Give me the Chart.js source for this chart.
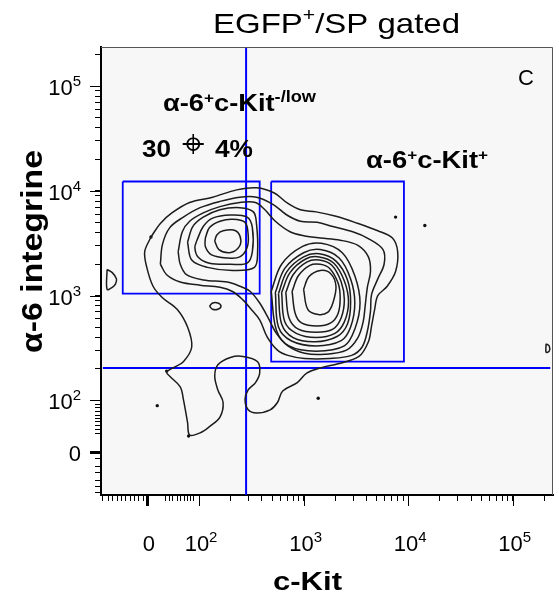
<!DOCTYPE html>
<html>
<head>
<meta charset="utf-8">
<title>EGFP+/SP gated</title>
<script src="https://cdn.jsdelivr.net/npm/chart.js@4.4.0/dist/chart.umd.min.js"></script>
<style>
  html, body { margin: 0; padding: 0; background: #fff; }
  #wrap { width: 559px; height: 595px; }
</style>
</head>
<body>
<div id="wrap"><canvas id="facs" width="559" height="595"></canvas></div>
<script>
// all values are log10 decades on a biexponential display (0 sits near 1.5)
const xRange = [1.062, 5.386];
const yRange = [1.097, 5.374];

// major ticks + labels
const xMajor = [1.50, 2, 3, 4, 5];
const yMajor = [1.51, 2, 3, 4, 5];
const tickBase = ['0', '10', '10', '10', '10'];
const tickExp = ['', '2', '3', '4', '5'];

// minor ticks in the linear part of the scale
const xLowTicks = [1.68, 1.72, 1.75, 1.79, 1.82, 1.86, 1.89, 1.92, 1.95];
const xNegTicks = [1.08, 1.13, 1.17, 1.22, 1.26, 1.30, 1.34, 1.38, 1.42, 1.47];
const yLowTicks = [1.96, 1.93, 1.89, 1.86, 1.83, 1.80, 1.76, 1.72, 1.68];
const yNegTicks = [1.45, 1.37, 1.31, 1.24, 1.18, 1.12];

// gates
const gateLow = [[1.27, 4.09], [2.58, 4.09], [2.58, 3.02], [1.27, 3.02], [1.27, 4.09]];
const gateHigh = [[2.69, 4.09], [3.96, 4.09], [3.96, 2.37], [2.69, 2.37], [2.69, 4.09]];
const quadX = 2.45;
const quadY = 2.31;

// contour lines (outer merged ones first)
const m1 = [[1.54,3.56],[1.63,3.69],[1.74,3.79],[1.91,3.89],[2.13,3.94],[2.36,4.01],[2.55,4.03],[2.72,3.98],[2.85,3.88],[2.97,3.82],[3.12,3.80],[3.30,3.76],[3.49,3.70],[3.71,3.62],[3.85,3.55],[3.90,3.42],[3.88,3.23],[3.80,3.09],[3.71,3.00],[3.68,2.87],[3.65,2.71],[3.62,2.56],[3.53,2.42],[3.33,2.35],[3.16,2.31],[3.03,2.26],[2.94,2.17],[2.80,2.09],[2.75,1.98],[2.68,1.91],[2.55,1.88],[2.47,1.91],[2.44,2.01],[2.47,2.10],[2.54,2.17],[2.58,2.26],[2.56,2.37],[2.42,2.42],[2.30,2.41],[2.18,2.34],[2.15,2.23],[2.18,2.10],[2.23,1.98],[2.20,1.84],[2.10,1.75],[2.01,1.69],[1.91,1.67],[1.89,1.79],[1.85,2.01],[1.82,2.13],[1.72,2.23],[1.69,2.27],[1.75,2.31],[1.85,2.37],[1.93,2.51],[1.89,2.70],[1.79,2.87],[1.65,2.98],[1.56,3.09],[1.50,3.27],[1.48,3.42],[1.54,3.56]];
const m2 = [[1.63,3.30],[1.65,3.49],[1.72,3.65],[1.85,3.75],[2.01,3.84],[2.20,3.90],[2.39,3.94],[2.55,3.94],[2.71,3.87],[2.84,3.77],[2.97,3.71],[3.13,3.70],[3.28,3.66],[3.47,3.61],[3.61,3.55],[3.76,3.44],[3.77,3.30],[3.71,3.16],[3.65,3.01],[3.64,2.85],[3.61,2.66],[3.56,2.51],[3.46,2.43],[3.25,2.40],[3.01,2.40],[2.85,2.43],[2.75,2.48],[2.65,2.61],[2.58,2.77],[2.49,2.88],[2.42,2.96],[2.32,3.04],[2.20,3.08],[2.01,3.10],[1.82,3.13],[1.69,3.20],[1.63,3.30]];
const m3 = [[1.80,3.42],[1.84,3.61],[1.91,3.71],[2.04,3.79],[2.20,3.85],[2.39,3.89],[2.54,3.89],[2.63,3.82],[2.73,3.71],[2.87,3.61],[3.01,3.57],[3.16,3.55],[3.35,3.53],[3.52,3.48],[3.62,3.37],[3.64,3.23],[3.61,3.08],[3.59,2.91],[3.57,2.75],[3.52,2.60],[3.41,2.48],[3.20,2.44],[3.01,2.45],[2.85,2.52],[2.74,2.64],[2.66,2.79],[2.58,2.93],[2.49,3.04],[2.39,3.09],[2.27,3.13],[2.04,3.15],[1.88,3.20],[1.82,3.30],[1.80,3.42]];

// left population (alpha-6+ c-Kit -/low)
const l1 = [[1.89,3.51],[1.94,3.66],[2.04,3.75],[2.20,3.82],[2.39,3.84],[2.52,3.80],[2.55,3.68],[2.56,3.42],[2.53,3.27],[2.32,3.24],[2.08,3.27],[1.93,3.34],[1.89,3.51]];
const l2 = [[1.98,3.53],[2.04,3.66],[2.13,3.74],[2.30,3.77],[2.46,3.75],[2.51,3.65],[2.51,3.42],[2.46,3.31],[2.30,3.30],[2.10,3.31],[1.99,3.37],[1.96,3.46],[1.98,3.53]];
const l3 = [[2.06,3.55],[2.10,3.65],[2.20,3.71],[2.32,3.73],[2.44,3.70],[2.47,3.58],[2.46,3.46],[2.39,3.37],[2.27,3.36],[2.12,3.39],[2.06,3.47],[2.06,3.55]];
const l4 = [[2.15,3.52],[2.17,3.58],[2.23,3.62],[2.35,3.62],[2.40,3.53],[2.37,3.45],[2.29,3.41],[2.19,3.44],[2.15,3.52]];

// right population (alpha-6+ c-Kit+)
const r1 = [[2.69,3.04],[2.79,3.30],[2.99,3.47],[3.17,3.50],[3.37,3.41],[3.49,3.19],[3.54,2.93],[3.49,2.68],[3.39,2.52],[3.12,2.47],[2.86,2.52],[2.74,2.67],[2.69,3.04]];
const r2 = [[2.73,3.03],[2.82,3.26],[3.00,3.41],[3.16,3.44],[3.34,3.36],[3.45,3.16],[3.49,2.93],[3.45,2.70],[3.36,2.57],[3.12,2.52],[2.88,2.57],[2.76,2.70],[2.73,3.03]];
const r3 = [[2.76,3.02],[2.84,3.23],[3.00,3.37],[3.15,3.40],[3.31,3.33],[3.42,3.15],[3.45,2.94],[3.42,2.73],[3.32,2.61],[3.11,2.56],[2.90,2.60],[2.79,2.73],[2.76,3.02]];
const r4 = [[2.79,3.03],[2.87,3.22],[3.02,3.35],[3.15,3.37],[3.29,3.31],[3.39,3.14],[3.43,2.94],[3.39,2.75],[3.30,2.64],[3.12,2.60],[2.93,2.64],[2.82,2.75],[2.79,3.03]];
const r5 = [[2.83,3.03],[2.90,3.20],[3.03,3.32],[3.15,3.34],[3.27,3.29],[3.36,3.13],[3.39,2.96],[3.36,2.79],[3.28,2.68],[3.12,2.65],[2.95,2.68],[2.86,2.79],[2.83,3.03]];
const r6 = [[2.89,3.04],[2.95,3.19],[3.06,3.29],[3.16,3.30],[3.25,3.26],[3.33,3.12],[3.35,2.98],[3.33,2.83],[3.26,2.74],[3.13,2.71],[2.98,2.74],[2.92,2.83],[2.89,3.04]];
const r7 = [[3.00,3.06],[3.05,3.18],[3.16,3.24],[3.26,3.21],[3.31,3.09],[3.28,2.93],[3.23,2.84],[3.14,2.82],[3.04,2.87],[3.00,3.06]];

// small islands and single events
const islandMid = [[2.10,2.90],[2.13,2.93],[2.18,2.93],[2.21,2.90],[2.18,2.87],[2.13,2.87],[2.10,2.90]];
const islandLeft = [[1.12,3.25],[1.17,3.22],[1.21,3.16],[1.20,3.11],[1.17,3.08],[1.12,3.06],[1.12,3.25]];
const islandRight = [[5.32,2.54],[5.35,2.52],[5.35,2.47],[5.32,2.46],[5.32,2.54]];
const events = [[1.54,3.56],[1.69,2.28],[1.90,1.66],[3.88,3.75],[4.16,3.67],[1.60,1.95],[3.14,2.02]];

const SANS = '"Liberation Sans", Arial, Helvetica, sans-serif';

function pts(arr) {
    return arr.map(p => ({ x: p[0], y: p[1] }));
}

function logMinors(range) {
    const out = [];
    for (let n = 2; n <= 5; n++) {
        for (let k = 2; k <= 9; k++) {
            const v = Math.log10(k * Math.pow(10, n));
            if (v < range[1]) out.push(v);
        }
    }
    return out;
}

const xTickValues = [...xNegTicks, ...xLowTicks, ...xMajor, ...logMinors(xRange)];
const yTickValues = [...yNegTicks, ...yLowTicks, ...yMajor, ...logMinors(yRange)];

function contour(arr) {
    return {
        data: pts(arr),
        showLine: true,
        borderColor: '#1c1c1c',
        borderWidth: 1.5,
        pointRadius: 0,
        tension: 0.35,
        fill: false
    };
}

function gate(arr, width) {
    return {
        data: pts(arr),
        showLine: true,
        borderColor: '#0000ff',
        borderWidth: width,
        pointRadius: 0,
        tension: 0,
        fill: false
    };
}

// rich text: parts drawn one after another, optionally stretched to a width
function drawRich(ctx, parts, x, y, width) {
    let natural = 0;
    parts.forEach(p => {
        ctx.font = (p.bold ? 'bold ' : '') + p.size + 'px ' + SANS;
        p.w = ctx.measureText(p.t).width;
        natural += p.w;
    });
    const sx = width ? width / natural : 1;
    ctx.save();
    ctx.translate(x, y);
    ctx.scale(sx, 1);
    let cx = 0;
    parts.forEach(p => {
        ctx.font = (p.bold ? 'bold ' : '') + p.size + 'px ' + SANS;
        ctx.fillText(p.t, cx, p.dy || 0);
        cx += p.w;
    });
    ctx.restore();
}

function drawTickLabel(ctx, base, exp, x, y, align) {
    ctx.font = '22px ' + SANS;
    const wb = ctx.measureText(base).width;
    ctx.font = '15px ' + SANS;
    const we = exp ? ctx.measureText(exp).width : 0;
    const w = wb + we;
    const x0 = align === 'right' ? x - w : x - w / 2;
    ctx.font = '22px ' + SANS;
    ctx.fillText(base, x0, y);
    if (exp) {
        ctx.font = '15px ' + SANS;
        ctx.fillText(exp, x0 + wb, y - 9);
    }
}

const facsDecor = {
    id: 'facsDecor',
    beforeDraw(chart) {
        const { ctx, chartArea: a } = chart;
        ctx.save();
        ctx.fillStyle = '#f7f7f7';
        ctx.fillRect(a.left, a.top, a.right - a.left, a.bottom - a.top);
        ctx.restore();
    },
    afterDraw(chart) {
        const { ctx, chartArea: a, scales } = chart;
        ctx.save();
        // thin frame on top and right
        ctx.strokeStyle = '#555';
        ctx.lineWidth = 1;
        ctx.beginPath();
        ctx.moveTo(a.left, a.top + 0.5);
        ctx.lineTo(a.right - 0.5, a.top + 0.5);
        ctx.lineTo(a.right - 0.5, a.bottom);
        ctx.stroke();

        // longer major ticks
        ctx.strokeStyle = '#000';
        xMajor.forEach((v, i) => {
            const px = Math.round(scales.x.getPixelForValue(v)) + 0.5;
            ctx.lineWidth = i === 0 ? 3 : 1;
            ctx.beginPath();
            ctx.moveTo(px, a.bottom);
            ctx.lineTo(px, a.bottom + 11);
            ctx.stroke();
        });
        yMajor.forEach((v, i) => {
            const py = Math.round(scales.y.getPixelForValue(v)) + 0.5;
            ctx.lineWidth = i === 0 ? 3 : 1;
            ctx.beginPath();
            ctx.moveTo(a.left, py);
            ctx.lineTo(a.left - 11, py);
            ctx.stroke();
        });

        // tick labels
        ctx.fillStyle = '#000';
        ctx.textBaseline = 'alphabetic';
        ctx.textAlign = 'left';
        xMajor.forEach((v, i) => {
            drawTickLabel(ctx, tickBase[i], tickExp[i], scales.x.getPixelForValue(v) + 2, 551, 'center');
        });
        yMajor.forEach((v, i) => {
            drawTickLabel(ctx, tickBase[i], tickExp[i], 81, scales.y.getPixelForValue(v) + 9, 'right');
        });

        // titles
        drawRich(ctx, [
            { t: 'EGFP', size: 28 },
            { t: '+', size: 18, dy: -12 },
            { t: '/SP gated', size: 28 }
        ], 213, 33, 247);
        drawRich(ctx, [{ t: 'c-Kit', size: 26, bold: true }], 273, 590, 69);
        ctx.save();
        ctx.translate(42, 252);
        ctx.rotate(-Math.PI / 2);
        drawRich(ctx, [{ t: '\u03b1-6 integrine', size: 29, bold: true }], -101, 0, 203);
        ctx.restore();

        // population labels
        drawRich(ctx, [
            { t: '\u03b1-6', size: 24, bold: true },
            { t: '+', size: 15, bold: true, dy: -8 },
            { t: 'c-Kit', size: 24, bold: true },
            { t: '-/low', size: 16, bold: true, dy: -9 }
        ], 163, 111, 153);
        drawRich(ctx, [{ t: '30', size: 24, bold: true }], 142, 157, 29);
        ctx.font = '40px "DejaVu Sans", sans-serif';
        ctx.textAlign = 'center';
        ctx.textBaseline = 'middle';
        ctx.fillText('\u2316', 193.5, 147);
        ctx.textAlign = 'left';
        ctx.textBaseline = 'alphabetic';
        drawRich(ctx, [{ t: '4%', size: 24, bold: true }], 215, 157, 38);
        drawRich(ctx, [
            { t: '\u03b1-6', size: 24, bold: true },
            { t: '+', size: 15, bold: true, dy: -8 },
            { t: 'c-Kit', size: 24, bold: true },
            { t: '+', size: 15, bold: true, dy: -8 }
        ], 366, 168, 122);
        drawRich(ctx, [{ t: 'C', size: 22 }], 518, 85);
        ctx.restore();
    }
};

const contours = [m1, m2, m3, l1, l2, l3, l4, r1, r2, r3, r4, r5, r6, r7, islandMid, islandLeft, islandRight];

const datasets = contours.map(contour);
datasets.push({
    data: pts(events),
    showLine: false,
    pointRadius: 1.7,
    pointBorderWidth: 0,
    pointBackgroundColor: '#111'
});
datasets.push(gate(gateLow, 1.8));
datasets.push(gate(gateHigh, 1.8));
datasets.push(gate([[quadX, yRange[0]], [quadX, yRange[1]]], 2));
datasets.push(gate([[1.08, quadY], [5.36, quadY]], 2));

new Chart(document.getElementById('facs').getContext('2d'), {
    type: 'scatter',
    data: { datasets: datasets },
    options: {
        responsive: false,
        animation: false,
        events: [],
        layout: { padding: { top: 47, right: 6, left: 0, bottom: 0 } },
        plugins: {
            legend: { display: false },
            tooltip: { enabled: false },
            title: { display: false }
        },
        scales: {
            x: {
                type: 'linear',
                min: xRange[0],
                max: xRange[1],
                afterBuildTicks: scale => { scale.ticks = xTickValues.map(v => ({ value: v })); },
                afterFit: scale => { scale.height = 100; },
                ticks: { display: false, autoSkip: false },
                grid: { drawOnChartArea: false, drawTicks: true, tickLength: 6, tickColor: '#000', tickWidth: 1 },
                border: { display: true, color: '#000', width: 2 }
            },
            y: {
                type: 'linear',
                min: yRange[0],
                max: yRange[1],
                afterBuildTicks: scale => { scale.ticks = yTickValues.map(v => ({ value: v })); },
                afterFit: scale => { scale.width = 101; },
                ticks: { display: false, autoSkip: false },
                grid: { drawOnChartArea: false, drawTicks: true, tickLength: 6, tickColor: '#000', tickWidth: 1 },
                border: { display: true, color: '#000', width: 2 }
            }
        }
    },
    plugins: [facsDecor]
});
</script>
</body>
</html>
